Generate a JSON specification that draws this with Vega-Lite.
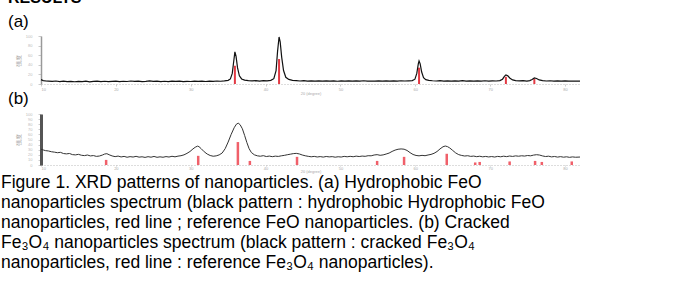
{
"$schema": "https://vega.github.io/schema/vega-lite/v6.json",
"padding": {"left": 1, "top": -10, "right": 0, "bottom": 0},
"datasets": {
"a_line": [
{"t":10,"i":9},{"t":10.3,"i":7.2},{"t":10.6,"i":6.4},{"t":11,"i":6.1},{"t":11.5,"i":5.4},{"t":12,"i":6.2},{"t":12.5,"i":5.1},{"t":13,"i":5.8},{"t":13.5,"i":4.9},{"t":14,"i":5.6},{"t":14.5,"i":4.7},{"t":15,"i":5.5},{"t":15.5,"i":5.0},{"t":16,"i":5.9},{"t":16.5,"i":4.6},{"t":17,"i":5.3},{"t":17.5,"i":6.0},{"t":18,"i":5.0},{"t":18.5,"i":5.7},{"t":19,"i":4.8},{"t":19.5,"i":5.4},{"t":20,"i":6.1},{"t":20.5,"i":5.0},{"t":21,"i":5.7},{"t":21.5,"i":5.2},{"t":22,"i":6.2},{"t":22.5,"i":5.3},{"t":23,"i":5.9},{"t":23.5,"i":5.0},{"t":24,"i":5.5},{"t":24.5,"i":6.3},{"t":25,"i":5.4},{"t":25.5,"i":6.0},{"t":26,"i":5.1},{"t":26.5,"i":5.7},{"t":27,"i":5.0},{"t":27.5,"i":5.8},{"t":28,"i":5.3},{"t":28.5,"i":5.9},{"t":29,"i":5.1},{"t":29.5,"i":5.6},{"t":30,"i":5.2},{"t":30.5,"i":6.0},{"t":31,"i":5.4},{"t":31.5,"i":5.9},{"t":32,"i":5.2},{"t":32.5,"i":6.1},{"t":33,"i":5.5},{"t":33.5,"i":6.2},{"t":34,"i":5.7},{"t":34.5,"i":6.5},{"t":35,"i":7.6},{"t":35.3,"i":10.5},{"t":35.55,"i":22},{"t":35.75,"i":48},{"t":35.9,"i":67},{"t":36.05,"i":58},{"t":36.25,"i":34},{"t":36.5,"i":17},{"t":36.8,"i":10.5},{"t":37.2,"i":8},{"t":37.7,"i":7},{"t":38.2,"i":6.4},{"t":38.7,"i":6.9},{"t":39.2,"i":6.2},{"t":39.7,"i":7.0},{"t":40.2,"i":6.5},{"t":40.7,"i":7.6},{"t":41.1,"i":11},{"t":41.4,"i":28},{"t":41.6,"i":68},{"t":41.8,"i":98},{"t":41.95,"i":88},{"t":42.15,"i":56},{"t":42.4,"i":28},{"t":42.7,"i":14},{"t":43.1,"i":9.5},{"t":43.6,"i":7.6},{"t":44.1,"i":7.0},{"t":44.6,"i":6.3},{"t":45.1,"i":6.9},{"t":45.6,"i":6.0},{"t":46.1,"i":6.7},{"t":46.6,"i":5.9},{"t":47.1,"i":6.4},{"t":47.6,"i":5.8},{"t":48.1,"i":6.6},{"t":48.6,"i":5.9},{"t":49.1,"i":6.3},{"t":49.6,"i":5.7},{"t":50.1,"i":6.5},{"t":50.6,"i":6.0},{"t":51.1,"i":6.6},{"t":51.6,"i":5.8},{"t":52.1,"i":6.4},{"t":52.6,"i":6.0},{"t":53.1,"i":6.8},{"t":53.6,"i":5.9},{"t":54.1,"i":6.3},{"t":54.6,"i":6.0},{"t":55.1,"i":6.7},{"t":55.6,"i":6.1},{"t":56.1,"i":6.5},{"t":56.6,"i":5.9},{"t":57.1,"i":6.6},{"t":57.6,"i":6.2},{"t":58.1,"i":6.8},{"t":58.6,"i":6.3},{"t":59.1,"i":6.7},{"t":59.6,"i":7.2},{"t":59.95,"i":10},{"t":60.2,"i":22},{"t":60.4,"i":42},{"t":60.5,"i":48},{"t":60.65,"i":42},{"t":60.85,"i":25},{"t":61.1,"i":13},{"t":61.4,"i":9},{"t":61.8,"i":7.5},{"t":62.3,"i":6.8},{"t":62.8,"i":6.3},{"t":63.3,"i":6.9},{"t":63.8,"i":6.1},{"t":64.3,"i":6.7},{"t":64.8,"i":6.0},{"t":65.3,"i":6.6},{"t":65.8,"i":6.2},{"t":66.3,"i":6.9},{"t":66.8,"i":6.1},{"t":67.3,"i":6.5},{"t":67.8,"i":6.0},{"t":68.3,"i":6.7},{"t":68.8,"i":6.2},{"t":69.3,"i":6.8},{"t":69.8,"i":6.1},{"t":70.3,"i":6.6},{"t":70.8,"i":6.3},{"t":71.3,"i":7.0},{"t":71.65,"i":10},{"t":71.9,"i":16},{"t":72.1,"i":19},{"t":72.35,"i":17},{"t":72.65,"i":12},{"t":73,"i":8.5},{"t":73.4,"i":7},{"t":73.9,"i":6.5},{"t":74.4,"i":6.9},{"t":74.9,"i":6.2},{"t":75.3,"i":7},{"t":75.6,"i":9.5},{"t":75.9,"i":12.5},{"t":76.2,"i":11.5},{"t":76.55,"i":8.5},{"t":77,"i":7},{"t":77.5,"i":6.3},{"t":78,"i":6.8},{"t":78.5,"i":6.0},{"t":79,"i":6.5},{"t":79.5,"i":5.9},{"t":80,"i":6.4},{"t":80.5,"i":5.8},{"t":81,"i":6.3},{"t":81.5,"i":5.9},{"t":82,"i":6.1}
],
"a_ref": [
{"t":35.9,"i":38},{"t":41.8,"i":52},{"t":60.5,"i":34},{"t":72.1,"i":15},{"t":75.9,"i":11}
],
"b_line": [
{"t":10,"i":31},{"t":10.3,"i":29.5},{"t":10.6,"i":28.2},{"t":11,"i":27.5},{"t":11.4,"i":26},{"t":11.8,"i":25.2},{"t":12.2,"i":24.1},{"t":12.6,"i":24.8},{"t":13,"i":22.5},{"t":13.4,"i":21.8},{"t":13.8,"i":22.6},{"t":14.2,"i":20.4},{"t":14.6,"i":19.8},{"t":15,"i":20.9},{"t":15.4,"i":19.1},{"t":15.8,"i":18.4},{"t":16.2,"i":19.6},{"t":16.6,"i":17.8},{"t":17,"i":18.5},{"t":17.4,"i":16.9},{"t":17.8,"i":17.6},{"t":18.2,"i":19.5},{"t":18.5,"i":21.5},{"t":18.8,"i":22.2},{"t":19.1,"i":20.1},{"t":19.5,"i":17.8},{"t":19.9,"i":16.4},{"t":20.3,"i":17.5},{"t":20.7,"i":15.8},{"t":21.1,"i":16.9},{"t":21.5,"i":15.2},{"t":21.9,"i":16.4},{"t":22.3,"i":15.6},{"t":22.7,"i":17.0},{"t":23.1,"i":15.4},{"t":23.5,"i":16.1},{"t":23.9,"i":14.9},{"t":24.3,"i":16.3},{"t":24.7,"i":15.3},{"t":25.1,"i":16.8},{"t":25.5,"i":15.1},{"t":25.9,"i":16.0},{"t":26.3,"i":15.2},{"t":26.7,"i":16.5},{"t":27.1,"i":15.6},{"t":27.5,"i":17.1},{"t":27.9,"i":16.0},{"t":28.3,"i":17.4},{"t":28.7,"i":18.2},{"t":29.1,"i":19.9},{"t":29.5,"i":22.8},{"t":29.9,"i":26.5},{"t":30.3,"i":31.5},{"t":30.6,"i":34.8},{"t":30.9,"i":37},{"t":31.1,"i":36},{"t":31.4,"i":32},{"t":31.8,"i":26},{"t":32.2,"i":21.5},{"t":32.6,"i":18.6},{"t":33,"i":17.2},{"t":33.4,"i":17.9},{"t":33.8,"i":19.8},{"t":34.2,"i":23.5},{"t":34.6,"i":32},{"t":35,"i":45},{"t":35.4,"i":60},{"t":35.8,"i":73},{"t":36.1,"i":80},{"t":36.35,"i":82},{"t":36.6,"i":79},{"t":36.9,"i":71},{"t":37.2,"i":58},{"t":37.5,"i":44},{"t":37.8,"i":32},{"t":38.1,"i":24.5},{"t":38.5,"i":20},{"t":38.9,"i":18},{"t":39.3,"i":17.2},{"t":39.7,"i":18.3},{"t":40.1,"i":16.6},{"t":40.5,"i":17.5},{"t":40.9,"i":16.3},{"t":41.3,"i":17.4},{"t":41.7,"i":16.8},{"t":42.1,"i":18.0},{"t":42.5,"i":18.9},{"t":42.9,"i":20.1},{"t":43.3,"i":21.2},{"t":43.7,"i":22.3},{"t":44.1,"i":22.8},{"t":44.5,"i":21.7},{"t":44.9,"i":19.6},{"t":45.3,"i":18.1},{"t":45.7,"i":17.0},{"t":46.1,"i":16.1},{"t":46.5,"i":16.9},{"t":46.9,"i":15.7},{"t":47.3,"i":16.5},{"t":47.7,"i":15.5},{"t":48.1,"i":16.7},{"t":48.5,"i":15.9},{"t":48.9,"i":16.4},{"t":49.3,"i":15.3},{"t":49.7,"i":16.2},{"t":50.1,"i":15.6},{"t":50.5,"i":16.9},{"t":50.9,"i":16.1},{"t":51.3,"i":17.0},{"t":51.7,"i":16.2},{"t":52.1,"i":17.4},{"t":52.5,"i":16.6},{"t":52.9,"i":17.5},{"t":53.3,"i":17.0},{"t":53.7,"i":18.2},{"t":54.1,"i":18.0},{"t":54.5,"i":19.6},{"t":54.9,"i":20.3},{"t":55.3,"i":19.0},{"t":55.7,"i":19.8},{"t":56.1,"i":21.5},{"t":56.5,"i":23.4},{"t":56.9,"i":26.6},{"t":57.3,"i":29.2},{"t":57.7,"i":30.9},{"t":58.1,"i":31.5},{"t":58.5,"i":31},{"t":58.9,"i":28.5},{"t":59.3,"i":24.2},{"t":59.7,"i":20.6},{"t":60.1,"i":18.7},{"t":60.5,"i":18.0},{"t":60.9,"i":18.9},{"t":61.3,"i":18.2},{"t":61.7,"i":19.6},{"t":62.1,"i":20.8},{"t":62.5,"i":22.9},{"t":62.9,"i":26.4},{"t":63.3,"i":31.5},{"t":63.7,"i":35.8},{"t":64.0,"i":37.2},{"t":64.3,"i":36},{"t":64.6,"i":33.4},{"t":65.0,"i":28.5},{"t":65.4,"i":23.6},{"t":65.8,"i":20.3},{"t":66.2,"i":18.7},{"t":66.6,"i":17.6},{"t":67.0,"i":18.2},{"t":67.4,"i":16.9},{"t":67.8,"i":17.5},{"t":68.2,"i":16.3},{"t":68.6,"i":17.2},{"t":69.0,"i":16.0},{"t":69.4,"i":16.8},{"t":69.8,"i":15.8},{"t":70.2,"i":16.6},{"t":70.6,"i":15.6},{"t":71.0,"i":16.9},{"t":71.4,"i":16.1},{"t":71.8,"i":17.3},{"t":72.2,"i":16.4},{"t":72.6,"i":17.6},{"t":73.0,"i":16.8},{"t":73.4,"i":17.9},{"t":73.8,"i":17.2},{"t":74.2,"i":18.1},{"t":74.6,"i":17.5},{"t":75.0,"i":18.6},{"t":75.4,"i":18.0},{"t":75.8,"i":19.4},{"t":76.2,"i":20.2},{"t":76.6,"i":19.5},{"t":77.0,"i":17.8},{"t":77.4,"i":16.6},{"t":77.8,"i":17.3},{"t":78.2,"i":15.9},{"t":78.6,"i":16.7},{"t":79.0,"i":15.5},{"t":79.4,"i":16.4},{"t":79.8,"i":15.3},{"t":80.2,"i":16.1},{"t":80.6,"i":15.0},{"t":81.0,"i":15.9},{"t":81.4,"i":15.2},{"t":82,"i":15.6}
],
"b_ref": [
{"t":18.7,"i":10},{"t":31.0,"i":18},{"t":36.3,"i":45},{"t":37.9,"i":8},{"t":44.2,"i":16},{"t":54.9,"i":8},{"t":58.5,"i":16},{"t":64.2,"i":22},{"t":68.0,"i":5},{"t":68.6,"i":6},{"t":72.6,"i":7},{"t":76.0,"i":8},{"t":76.9,"i":6},{"t":80.9,"i":7}
]
},
"title": {
"text": [
"Figure 1. XRD patterns of nanoparticles. (a) Hydrophobic FeO",
"nanoparticles spectrum (black pattern : hydrophobic Hydrophobic FeO",
"nanoparticles, red line ; reference FeO nanoparticles. (b) Cracked",
"Fe₃O₄ nanoparticles spectrum (black pattern : cracked Fe₃O₄",
"nanoparticles, red line : reference Fe₃O₄ nanoparticles)."
],
"orient": "bottom", "anchor": "start", "frame": "bounds", "dx": -7,
"font": "Liberation Sans", "fontSize": 17.5, "fontWeight": "normal",
"lineHeight": 20, "offset": 1, "color": "#000"
},
"bounds": "flush",
"spacing": 30,
"vconcat": [
{
"width": 539, "height": 48,
"title": {"text": "RESULTS", "subtitle": "(a)", "anchor": "start", "frame": "group", "dx": -33, "fontSize": 16, "font": "Liberation Sans", "fontWeight": "bold", "subtitleFontSize": 17, "subtitleFont": "Liberation Sans", "subtitleFontWeight": "normal", "subtitleColor": "#000", "subtitlePadding": 8, "offset": 4, "color": "#000"},
"encoding": {
"x": {"field": "t", "type": "quantitative", "scale": {"domain": [10, 82], "nice": false},
"axis": {"values": [10,20,30,40,50,60,70,80], "labelFontSize": 4, "labelColor": "#aaa", "tickColor": "#ccc", "tickSize": 2, "domainColor": "#bbb", "domainDash": [1,2], "title": "2θ (degree)", "titleFontSize": 4, "titleColor": "#aaa", "titleFontWeight": "normal", "titlePadding": 0, "labelPadding": 1}},
"y": {"field": "i", "type": "quantitative", "scale": {"domain": [0, 100], "nice": false},
"axis": {"title": "强度", "titleFontSize": 6, "titleColor": "#999", "titleFontWeight": "normal", "labelFontSize": 4, "labelColor": "#bbb", "tickColor": "#ccc", "tickSize": 3, "domainColor": "#999", "domainWidth": 1.5, "tickCount": 5, "labelPadding": 6, "titlePadding": 4}}
},
"layer": [
{"data": {"name": "a_ref"}, "mark": {"type": "rule", "color": "#e23a44", "strokeWidth": 2}, "encoding": {"y2": {"datum": 0}}},
{"data": {"name": "a_line"}, "mark": {"type": "line", "color": "#111", "strokeWidth": 1.2}}
]
},
{
"width": 539, "height": 51,
"title": {"text": "(b)", "anchor": "start", "frame": "group", "dx": -33, "fontSize": 17, "font": "Liberation Sans", "fontWeight": "normal", "offset": 4, "color": "#000"},
"encoding": {
"x": {"field": "t", "type": "quantitative", "scale": {"domain": [10, 82], "nice": false},
"axis": {"values": [10,20,30,40,50,60,70,80], "labelFontSize": 4, "labelColor": "#aaa", "tickColor": "#ccc", "tickSize": 1, "domainColor": "#bbb", "domainDash": [1,2], "title": "2θ (degree)", "titleFontSize": 4, "titleColor": "#aaa", "titleFontWeight": "normal", "titlePadding": -1, "labelPadding": 0}},
"y": {"field": "i", "type": "quantitative", "scale": {"domain": [0, 100], "nice": false},
"axis": {"title": "强度", "titleFontSize": 6, "titleColor": "#999", "titleFontWeight": "normal", "labelFontSize": 4, "labelColor": "#bbb", "tickColor": "#ccc", "tickSize": 3, "domainColor": "#555", "domainWidth": 3, "tickCount": 12, "labelPadding": 6, "titlePadding": 4}}
},
"layer": [
{"data": {"name": "b_ref"}, "mark": {"type": "rule", "color": "#f0606a", "strokeWidth": 2.5}, "encoding": {"y2": {"datum": 0}}},
{"data": {"name": "b_line"}, "mark": {"type": "line", "color": "#333", "strokeWidth": 1}}
]
}
],
"config": {"view": {"stroke": null}, "axis": {"grid": false}}
}
